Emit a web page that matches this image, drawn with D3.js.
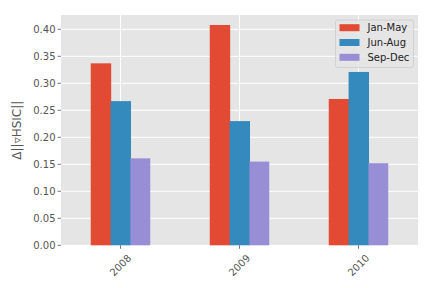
<!DOCTYPE html>
<html><head><meta charset="utf-8">
<script src="https://cdn.jsdelivr.net/npm/d3@7"></script>
<style>body{margin:0;background:#fff}svg{display:block}text{font-family:"DejaVu Sans",sans-serif}</style>
</head><body>
<svg id="c" width="432" height="288"></svg>
<script>
const years = ["2008", "2009", "2010"];
const seriesNames = ["Jan-May", "Jun-Aug", "Sep-Dec"];
const janMay = [0.337, 0.408, 0.271];
const junAug = [0.267, 0.230, 0.321];
const sepDec = [0.161, 0.155, 0.152];
const yTicks = [0, 0.05, 0.10, 0.15, 0.20, 0.25, 0.30, 0.35, 0.40];
const colors = ["#E24A33", "#348ABD", "#988ED5"];
const series = [janMay, junAug, sepDec];

const svg = d3.select("#c");
const L = 61, R = 418, T = 15, B = 245.3;
const x = d3.scaleLinear().domain([-0.5, 2.5]).range([L, R]);
const y = d3.scaleLinear().domain([0, 0.4265]).range([B, T]);

svg.append("rect").attr("x", L).attr("y", T).attr("width", R - L).attr("height", B - T).attr("fill", "#E5E5E5");

// grid
svg.append("g").selectAll("line").data(yTicks).join("line")
  .attr("x1", L).attr("x2", R).attr("y1", d => y(d)).attr("y2", d => y(d))
  .attr("stroke", "#fff").attr("stroke-width", 1);
svg.append("g").selectAll("line").data(years).join("line")
  .attr("x1", (d, i) => x(i)).attr("x2", (d, i) => x(i)).attr("y1", T).attr("y2", B)
  .attr("stroke", "#fff").attr("stroke-width", 1);

// bars
const bw = 1 / 6;
series.forEach((s, k) => {
  svg.append("g").selectAll("rect").data(s).join("rect")
    .attr("x", (d, i) => x(i - 0.25 + k * bw))
    .attr("width", x(bw) - x(0) + (k < 2 ? 0.6 : 0))
    .attr("y", d => y(d))
    .attr("height", d => y(0) - y(d))
    .attr("fill", colors[k]);
});

// y axis ticks
const gy = svg.append("g");
gy.selectAll("line").data(yTicks).join("line")
  .attr("x1", L - 3.5).attr("x2", L).attr("y1", d => y(d)).attr("y2", d => y(d))
  .attr("stroke", "#555").attr("stroke-width", 0.8);
gy.selectAll("text").data(yTicks).join("text")
  .attr("x", L - 5.5).attr("y", d => y(d)).attr("dy", "0.35em")
  .attr("text-anchor", "end").attr("font-size", 10).attr("fill", "#555")
  .text(d => d3.format(".2f")(d));

// x axis ticks
const gx = svg.append("g");
gx.selectAll("line").data(years).join("line")
  .attr("x1", (d, i) => x(i)).attr("x2", (d, i) => x(i)).attr("y1", B).attr("y2", B + 3.5)
  .attr("stroke", "#555").attr("stroke-width", 0.8);
gx.selectAll("text").data(years).join("text")
  .attr("transform", (d, i) => `translate(${x(i)},${B + 20}) rotate(-45)`)
  .attr("text-anchor", "middle").attr("dy", "0.35em")
  .attr("font-size", 10).attr("fill", "#555")
  .text(d => d);

// y label
svg.append("text")
  .attr("transform", `translate(21,${(T + B) / 2}) rotate(-90)`)
  .attr("text-anchor", "middle").attr("font-size", 12).attr("fill", "#555")
  .text("Δ||▿HSIC||");

// legend
const lg = svg.append("g");
lg.append("rect").attr("x", 335.5).attr("y", 20).attr("width", 78).attr("height", 47.5)
  .attr("rx", 2).attr("fill", "#E5E5E5").attr("fill-opacity", 0.8).attr("stroke", "#CCCCCC").attr("stroke-width", 0.8);
seriesNames.forEach((n, k) => {
  const cy = 27.7 + k * 14.8;
  lg.append("rect").attr("x", 339.5).attr("y", cy - 3.5).attr("width", 20).attr("height", 7).attr("fill", colors[k]);
  lg.append("text").attr("x", 367.5).attr("y", cy).attr("dy", "0.35em")
    .attr("font-size", 10).attr("fill", "#222").text(n);
});
</script>
</body></html>
